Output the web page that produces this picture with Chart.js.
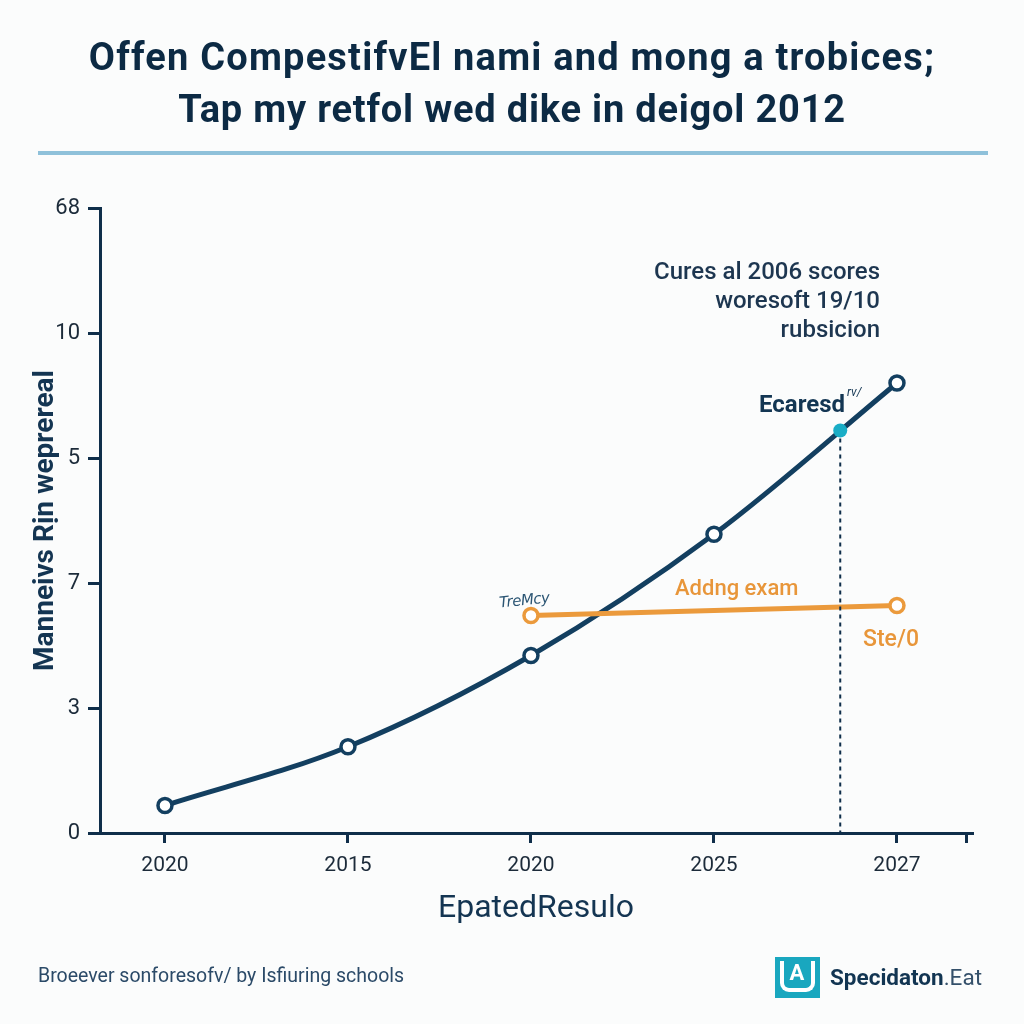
<!DOCTYPE html>
<html><head><meta charset="utf-8">
<script src="https://cdn.jsdelivr.net/npm/chart.js@4/dist/chart.umd.min.js"></script>
<style>
html,body{margin:0;padding:0;background:#fbfcfc;}
#wrap{position:relative;width:1024px;height:1024px;overflow:hidden;font-family:Roboto,"Liberation Sans",sans-serif;background:#fbfcfc;}
canvas{position:absolute;left:0;top:0;}
.t{position:absolute;white-space:nowrap;}
</style></head><body>
<div id="wrap">
<canvas id="c" width="1024" height="1024"></canvas>
<div class="t" style="left:0;width:1024px;text-align:center;top:38px;font-size:38px;line-height:38px;font-weight:700;letter-spacing:1.2px;color:#0c2a44;">Offen CompestifvEl nami and mong a trobices;</div>
<div class="t" style="left:0;width:1024px;text-align:center;top:90px;font-size:38px;line-height:38px;font-weight:700;letter-spacing:0.8px;color:#0c2a44;">Tap my retfol wed dike in deigol 2012</div>
<div style="position:absolute;left:38px;top:151px;width:950px;height:4px;background:#8fc1da;"></div>

<div class="t" style="right:144px;top:257px;font-size:24px;line-height:29px;text-align:right;font-weight:500;color:#1d3650;">Cures al 2006 scores<br>woresoft 19/10<br>rubsicion</div>
<div class="t" style="right:179px;top:392px;font-size:24px;line-height:24px;font-weight:700;color:#133653;">Ecaresd</div>
<div class="t" style="left:847px;top:386px;font-size:12px;line-height:12px;font-style:italic;color:#133653;">rv/</div>
<div class="t" style="left:675px;top:577px;font-size:22px;line-height:22px;font-weight:500;color:#e8963a;">Addng exam</div>
<div class="t" style="left:863px;top:627px;font-size:23px;line-height:23px;font-weight:500;color:#e8963a;">Ste/0</div>
<div class="t" style="left:499px;top:592px;font-size:15px;line-height:16px;font-family:'DejaVu Sans';font-style:italic;font-weight:300;color:#2c5674;transform:rotate(-6deg);letter-spacing:-0.5px;">TreMcy</div>

<div class="t" style="left:38px;top:965px;font-size:19.5px;line-height:22px;color:#2b4a68;">Broeever sonforesofv/ by Isfiuring schools</div>
<div style="position:absolute;left:775px;top:957px;width:45px;height:41px;background:#19a7bf;">
  <div style="position:absolute;left:5px;top:4px;width:27px;height:27px;border:4px solid #fff;border-top:none;border-radius:0 0 9px 9px;"></div>
  <div style="position:absolute;left:12px;top:5px;width:20px;text-align:center;font-size:22px;line-height:22px;font-weight:700;color:#fff;">A</div>
</div>
<div class="t" style="left:830px;top:965px;font-size:22.5px;line-height:24px;color:#123552;"><b>Specidaton</b><span style="color:#34506a;">.Eat</span></div>
</div>
<script>
const xPositions = [0, 1, 2, 3, 4];
const xTickLabels = ["2020", "2015", "2020", "2025", "2027"];
const yTickLabels = ["0", "3", "7", "5", "10", "68"];
const scoreValues = [0.22, 0.69, 1.42, 2.39, 3.60];
const examX = [2, 4];
const examValues = [1.74, 1.82];
const markerX = [3.69];
const markerValues = [3.22];

const NAVY = '#133f60';
const AXIS = '#0f2e4a';
const ORANGE = '#eb9a3c';
const CYAN = '#19adc6';

const dashPlugin = {
  id: 'dash',
  afterDatasetsDraw(chart) {
    const {ctx, scales, chartArea} = chart;
    const x = scales.x.getPixelForValue(markerX[0]);
    const y = scales.y.getPixelForValue(markerValues[0]);
    ctx.save();
    ctx.strokeStyle = AXIS;
    ctx.lineWidth = 2;
    ctx.setLineDash([4, 4]);
    ctx.beginPath();
    ctx.moveTo(x, y + 8);
    ctx.lineTo(x, chartArea.bottom);
    ctx.stroke();
    ctx.restore();
  }
};

new Chart(document.getElementById('c'), {
  type: 'line',
  data: {
    datasets: [
      {
        label: 'marker',
        data: markerX.map((x, i) => ({x, y: markerValues[i]})),
        showLine: false,
        pointRadius: 7,
        pointBackgroundColor: CYAN,
        pointBorderColor: CYAN,
        pointBorderWidth: 0,
        order: 0
      },
      {
        label: 'exam',
        data: examX.map((x, i) => ({x, y: examValues[i]})),
        borderColor: ORANGE,
        borderWidth: 5,
        pointRadius: 7,
        pointBorderWidth: 3.5,
        pointBackgroundColor: '#ffffff',
        pointBorderColor: ORANGE,
        order: 1
      },
      {
        label: 'scores',
        data: xPositions.map((x, i) => ({x, y: scoreValues[i]})),
        borderColor: NAVY,
        borderWidth: 5,
        cubicInterpolationMode: 'monotone',
        pointRadius: 7,
        pointBorderWidth: 3.5,
        pointBackgroundColor: '#ffffff',
        pointBorderColor: NAVY,
        order: 2
      }
    ]
  },
  options: {
    responsive: false,
    animation: false,
    devicePixelRatio: 1,
    layout: {padding: {left: 29, top: 208, right: 52, bottom: 96}},
    plugins: {legend: {display: false}, tooltip: {enabled: false}},
    scales: {
      x: {
        type: 'linear',
        min: -0.355,
        max: 4.41,
        afterBuildTicks(scale) {
          scale.ticks = [0, 1, 2, 3, 4, 4.38].map(v => ({value: v}));
        },
        afterFit(scale) { scale.height = 95; },
        grid: {drawOnChartArea: false, drawTicks: true, tickLength: 10, color: AXIS, lineWidth: 3},
        border: {display: true, color: AXIS, width: 3},
        ticks: {
          autoSkip: false, maxRotation: 0, padding: 10,
          color: '#1c2b3a', font: {family: 'Roboto', size: 21},
          callback: (v, i) => xTickLabels[i] !== undefined ? xTickLabels[i] : ''
        },
        title: {display: true, text: 'EpatedResulo', color: '#143552', font: {family: 'Roboto', size: 32}, padding: 0}
      },
      y: {
        type: 'linear',
        min: 0,
        max: 5,
        afterBuildTicks(scale) {
          scale.ticks = [0, 1, 2, 3, 4, 5].map(v => ({value: v}));
        },
        afterFit(scale) { scale.width = 71; },
        grid: {drawOnChartArea: false, drawTicks: true, tickLength: 12, color: AXIS, lineWidth: 3},
        border: {display: true, color: AXIS, width: 3},
        ticks: {
          padding: 8, color: '#1c2b3a', font: {family: 'Roboto', size: 22},
          callback: (v) => yTickLabels[v]
        },
        title: {display: true, text: 'Manneivs Rịn weprereal', color: '#143552', font: {family: 'Roboto', size: 28, weight: 700}, padding: 0}
      }
    }
  },
  plugins: [dashPlugin]
});
</script>
</body></html>
